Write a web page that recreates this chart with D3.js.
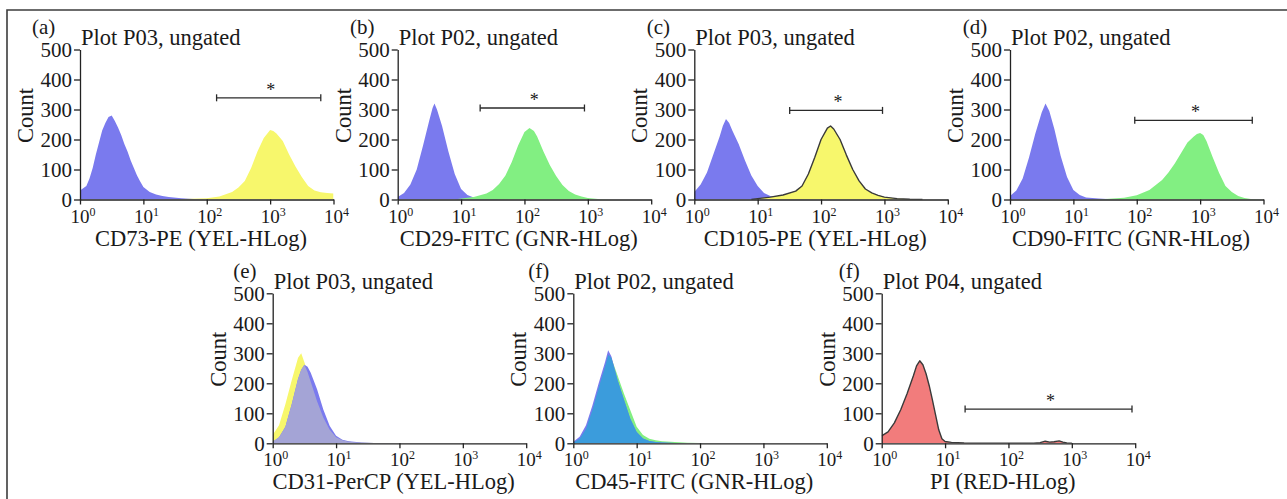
<!DOCTYPE html>
<html><head><meta charset="utf-8">
<script src="https://cdn.jsdelivr.net/npm/d3@7"></script>
<style>
body{margin:0;background:#fff}
svg{display:block}
svg text{font-family:"Liberation Serif","DejaVu Serif",serif !important;fill:#1a1a1a}
</style>
</head><body>
<svg id="c" width="1287" height="499"></svg>
<script>
// ---------- text ----------
const panelLetters = ["(a)","(b)","(c)","(d)","(e)","(f)","(f)"];
const panelTitles = ["Plot P03, ungated","Plot P02, ungated","Plot P03, ungated","Plot P02, ungated","Plot P03, ungated","Plot P02, ungated","Plot P04, ungated"];
const xLabels = ["CD73-PE (YEL-HLog)","CD29-FITC (GNR-HLog)","CD105-PE (YEL-HLog)","CD90-FITC (GNR-HLog)","CD31-PerCP (YEL-HLog)","CD45-FITC (GNR-HLog)","PI (RED-HLog)"];
const yLabel = "Count";
const yTicks = [0,100,200,300,400,500];
const xTickExponents = [0,1,2,3,4];
const gateMark = "*";

// ---------- data: log10 intensity (x) and event count (y) ----------
// (a)
const aBlueX  = [0,0.1,0.15,0.2,0.25,0.3,0.35,0.4,0.45,0.5,0.55,0.6,0.65,0.7,0.75,0.8,0.85,0.9,0.95,1.0,1.1,1.2,1.3,1.4,1.6,1.8,2.0,2.5];
const aBlueY  = [30,45,70,105,150,190,230,255,275,280,262,240,215,185,160,130,105,80,60,42,25,17,12,8,4,2,1,0];
const aYelX   = [1.3,1.5,2.0,2.2,2.4,2.5,2.6,2.7,2.8,2.9,3.0,3.05,3.1,3.2,3.3,3.4,3.5,3.6,3.7,3.8,3.9,4.0];
const aYelY   = [0,1,4,10,25,40,62,105,160,205,232,228,220,195,150,110,75,45,30,24,22,20];
// (b)
const bBlueX  = [0,0.1,0.2,0.3,0.4,0.5,0.55,0.58,0.62,0.7,0.8,0.9,1.0,1.1,1.2,1.4,1.6,1.8];
const bBlueY  = [8,22,50,100,180,265,305,320,300,245,160,85,35,15,7,3,1,0];
const bGrnX   = [0.9,1.0,1.2,1.4,1.5,1.6,1.7,1.8,1.9,2.0,2.08,2.15,2.2,2.3,2.4,2.5,2.6,2.7,2.8,2.9,3.0,3.2,3.4];
const bGrnY   = [0,3,8,20,32,52,80,125,180,225,238,228,210,160,115,78,48,28,17,10,5,1,0];
// (c)
const cBlueX  = [0,0.1,0.2,0.3,0.4,0.45,0.5,0.55,0.6,0.7,0.8,0.9,1.0,1.1,1.2,1.3,1.5,1.8,2.0];
const cBlueY  = [25,50,90,150,210,245,268,255,230,185,130,80,45,22,12,7,3,1,0];
const cYelX   = [0.9,1.0,1.2,1.4,1.6,1.7,1.8,1.9,2.0,2.1,2.15,2.2,2.3,2.4,2.5,2.6,2.7,2.8,2.9,3.0,3.2,3.4,3.6];
const cYelY   = [0,3,8,15,28,45,85,140,200,238,245,235,200,148,100,62,35,22,14,8,3,1,0];
// (d)
const dBlueX  = [0,0.1,0.2,0.3,0.4,0.5,0.56,0.62,0.7,0.8,0.9,1.0,1.1,1.2,1.4,1.6,1.8];
const dBlueY  = [12,30,70,140,220,290,320,295,235,145,75,32,15,7,3,1,0];
const dGrnX   = [1.3,1.5,1.8,2.0,2.2,2.4,2.5,2.6,2.7,2.8,2.9,2.95,3.0,3.05,3.1,3.2,3.3,3.4,3.5,3.6,3.7,3.8,4.0];
const dGrnY   = [0,2,6,14,32,65,90,120,155,190,210,218,222,215,195,140,88,45,25,12,5,2,0];
// (e) shared grid
const eX      = [0,0.1,0.2,0.3,0.4,0.45,0.5,0.55,0.6,0.7,0.8,0.9,1.0,1.1,1.2,1.4,1.6,2.0];
const eYelY   = [28,60,130,210,285,300,270,238,205,140,85,45,20,10,5,2,1,0];
const eBlueY  = [5,20,55,130,215,245,262,255,235,180,112,58,25,12,7,3,1,0];
// (f) shared grid
const fX      = [0,0.1,0.2,0.3,0.4,0.5,0.55,0.6,0.7,0.8,0.9,1.0,1.1,1.2,1.3,1.4,1.6,1.8,2.0,2.3];
const fGrnY   = [3,15,48,110,185,255,295,285,225,165,110,55,28,15,10,7,4,2,1,0];
const fBlueY  = [5,22,60,125,200,270,310,290,210,145,82,38,16,8,4,3,1,0.5,0,0];
// (g)
const gRedX   = [0,0.1,0.2,0.3,0.4,0.5,0.55,0.6,0.65,0.7,0.75,0.8,0.85,0.9,0.95,1.0,1.1,1.3,1.6,2.4,2.5,2.58,2.65,2.72,2.8,2.86,2.92,3.0];
const gRedY   = [25,38,68,112,165,225,258,275,262,232,192,145,95,45,15,6,3,1,0,0,2,7,4,5,8,4,1,0];

// gates: [start intensity, end intensity, count level]
const gateA = [143,6300,339];
const gateB = [20,885,305];
const gateC = [32,933,297];
const gateD = [93,6650,264];
const gateG = [20.7,8900,114];

// ---------- styling / layout ----------
const FONT = '"Liberation Serif","DejaVu Serif",serif';
const COL = {blue:"#7a7aee", yellow:"#f7f76c", green:"#82ef82", red:"#f27c7c",
             overlapE:"#a4a4d6", overlapF:"#3b9cdc", outline:"#3a3a3a", axis:"#222"};
const layout = [
  {x0:80,    ty:49.5,  lx:-48},
  {x0:397.7, ty:49.5,  lx:-47.7},
  {x0:694.3, ty:49.5,  lx:-47.6},
  {x0:1010,  ty:49.5,  lx:-47.3},
  {x0:272.7, ty:293.3, lx:-39.4},
  {x0:573.3, ty:293.3, lx:-45},
  {x0:881.7, ty:293.3, lx:-43}
];
const PW = 253.5, PH = 150;

const zip = (xs, ys) => xs.map((v,i)=>[v, ys[i]]);
const minOf = (xs, y1, y2) => xs.map((v,i)=>[v, Math.min(y1[i], y2[i])]);

const panels = [
  {layers:[{d:zip(aBlueX,aBlueY),fill:COL.blue},{d:zip(aYelX,aYelY),fill:COL.yellow}], gate:gateA},
  {layers:[{d:zip(bBlueX,bBlueY),fill:COL.blue},{d:zip(bGrnX,bGrnY),fill:COL.green}], gate:gateB},
  {layers:[{d:zip(cBlueX,cBlueY),fill:COL.blue},{d:zip(cYelX,cYelY),fill:COL.yellow,stroke:COL.outline}], gate:gateC},
  {layers:[{d:zip(dBlueX,dBlueY),fill:COL.blue},{d:zip(dGrnX,dGrnY),fill:COL.green}], gate:gateD},
  {layers:[{d:zip(eX,eYelY),fill:COL.yellow},{d:zip(eX,eBlueY),fill:COL.blue},{d:minOf(eX,eYelY,eBlueY),fill:COL.overlapE}], gate:null},
  {layers:[{d:zip(fX,fGrnY),fill:COL.green},{d:zip(fX,fBlueY),fill:COL.blue},{d:minOf(fX,fGrnY,fBlueY),fill:COL.overlapF}], gate:null},
  {layers:[{d:zip(gRedX,gRedY),fill:COL.red,stroke:COL.outline}], gate:gateG}
];

const svg = d3.select("#c");
svg.append("rect").attr("width",1287).attr("height",499).attr("fill","#fff");
svg.append("path").attr("d","M7,499 L7,10 L1287,10").attr("fill","none")
   .attr("stroke","#3c3c3c").attr("stroke-width",1.6);

function txt(sel){ return sel.attr("font-family",FONT).style("font-family",FONT); }

panels.forEach((p, i) => {
  const L = layout[i];
  const g = svg.append("g").attr("transform",`translate(${L.x0},${L.ty})`);
  const x = d3.scaleLog().domain([1,10000]).range([0,PW]);
  const y = d3.scaleLinear().domain([0,500]).range([PH,0]);
  const cid = "clip"+i;
  g.append("clipPath").attr("id",cid).append("rect").attr("x",0).attr("y",0).attr("width",PW).attr("height",PH);
  const area = d3.area().x(d=>x(Math.pow(10,d[0]))).y0(y(0)).y1(d=>y(d[1]));
  const line = d3.line().x(d=>x(Math.pow(10,d[0]))).y(d=>y(d[1]));
  const gc = g.append("g").attr("clip-path",`url(#${cid})`);
  p.layers.forEach(l => {
    gc.append("path").attr("d",area(l.d)).attr("fill",l.fill);
    if (l.stroke) gc.append("path").attr("d",line(l.d)).attr("fill","none")
        .attr("stroke",l.stroke).attr("stroke-width",1.4).attr("stroke-linejoin","round");
  });

  if (p.gate) {
    const [g0,g1,gcnt] = p.gate;
    const gx0 = x(g0), gx1 = x(g1), gy = y(gcnt);
    const gg = g.append("g").attr("stroke","#2a2a2a").attr("stroke-width",1.3);
    gg.append("line").attr("x1",gx0).attr("x2",gx1).attr("y1",gy).attr("y2",gy);
    gg.append("line").attr("x1",gx0).attr("x2",gx0).attr("y1",gy-3.5).attr("y2",gy+3.5);
    gg.append("line").attr("x1",gx1).attr("x2",gx1).attr("y1",gy-3.5).attr("y2",gy+3.5);
    const gm = Math.sqrt(g0*g1);
    txt(g.append("text")).attr("x",x(gm)+2).attr("y",gy-2).attr("text-anchor","middle")
      .style("font-size","18px").text(gateMark);
  }

  const ya = g.append("g").call(d3.axisLeft(y).tickValues(yTicks).tickSize(6).tickSizeOuter(0).tickPadding(2));
  ya.attr("font-family",null).attr("font-size",null);
  ya.select(".domain").attr("stroke",COL.axis).attr("stroke-width",1.3);
  ya.selectAll(".tick line").attr("stroke",COL.axis).attr("stroke-width",1.3);
  txt(ya.selectAll(".tick text")).style("font-size","21px").attr("fill","#1a1a1a");

  const xa = g.append("g").attr("transform",`translate(0,${PH})`)
     .call(d3.axisBottom(x).tickValues(xTickExponents.map(e=>Math.pow(10,e))).tickSize(5).tickSizeOuter(0).tickFormat(""));
  xa.attr("font-family",null).attr("font-size",null);
  xa.select(".domain").attr("stroke",COL.axis).attr("stroke-width",1.3);
  xa.selectAll(".tick line").attr("stroke",COL.axis).attr("stroke-width",1.3);
  xTickExponents.forEach(e => {
    const t = txt(g.append("text")).attr("x",x(Math.pow(10,e))+3).attr("y",PH+23)
      .attr("text-anchor","middle").style("font-size","19px");
    t.append("tspan").text("10");
    t.append("tspan").attr("dy",-7).style("font-size","12px").text(String(e));
  });

  txt(g.append("text")).attr("x",L.lx).attr("y",-15.5).style("font-size","21px").text(panelLetters[i]);
  txt(g.append("text")).attr("x",1).attr("y",-4.5).style("font-size","22.5px").text(panelTitles[i]);
  txt(g.append("text")).attr("transform",`translate(-47,66) rotate(-90)`).attr("text-anchor","middle")
    .style("font-size","22.5px").text(yLabel);
  txt(g.append("text")).attr("x",121).attr("y",PH+46).attr("text-anchor","middle")
    .style("font-size","22.5px").text(xLabels[i]);
});
</script>
</body></html>
